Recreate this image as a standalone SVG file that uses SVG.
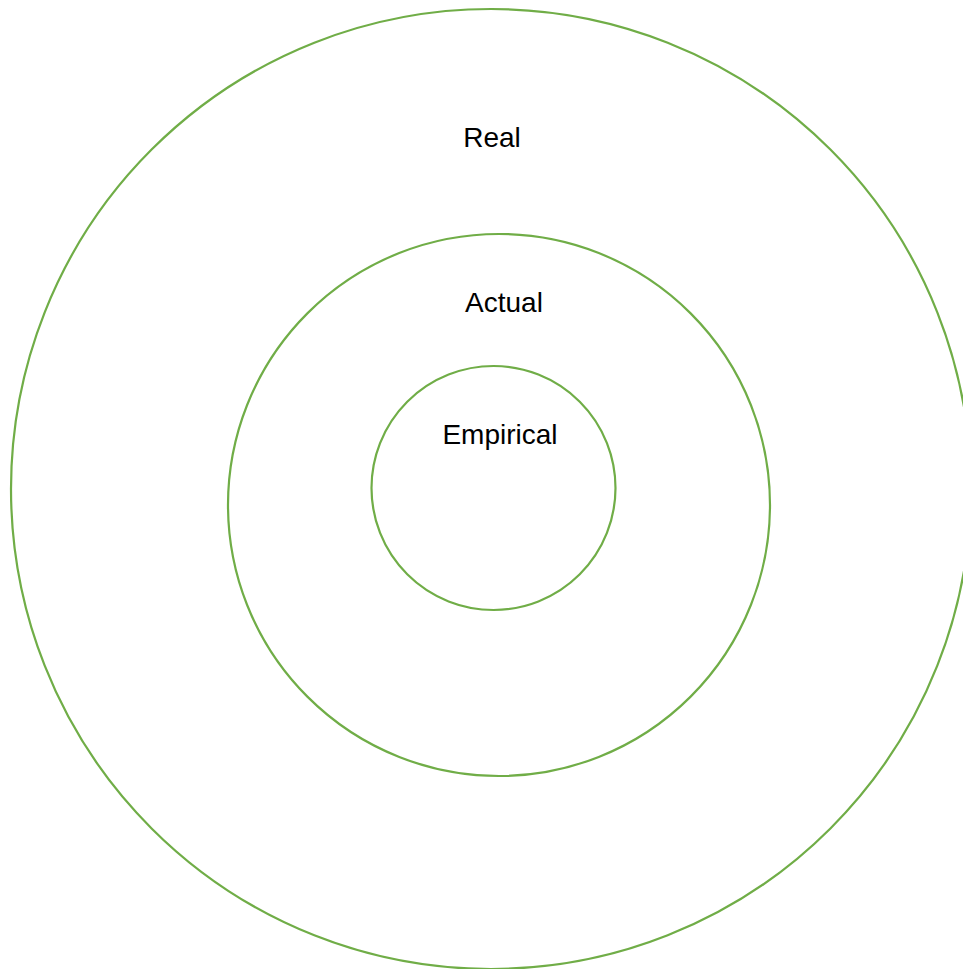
<svg xmlns="http://www.w3.org/2000/svg" width="963" height="969" viewBox="0 0 963 969">
<style>
.ring{fill:none;stroke:#70AD47;stroke-width:2.2}
.lbl{font-family:"Liberation Sans",Arial,sans-serif;font-size:28px;fill:#000;text-anchor:middle}
</style>
<rect width="963" height="969" fill="#fff"/>
<g id="real"><circle class="ring" cx="491" cy="489" r="480"/><text class="lbl" x="492" y="147">Real</text></g>
<g id="actual"><circle class="ring" cx="499" cy="505" r="271"/><text class="lbl" x="504" y="312">Actual</text></g>
<g id="empirical"><circle class="ring" cx="493.5" cy="488" r="122"/><text class="lbl" x="500" y="444">Empirical</text></g>
<g id="connectors"></g>
</svg>
